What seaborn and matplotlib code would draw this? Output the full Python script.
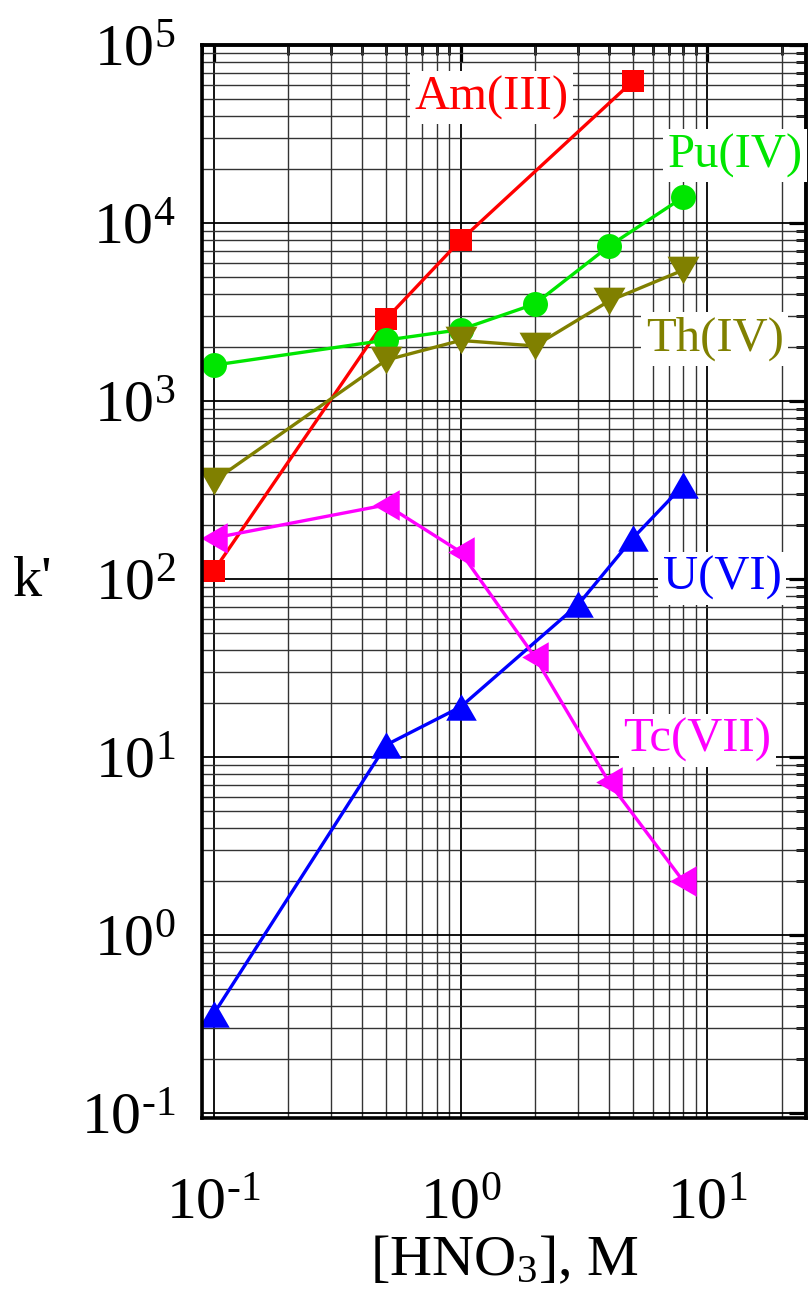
import numpy as np
import pandas as pd
import matplotlib
matplotlib.use("Agg")
import matplotlib.pyplot as plt
import seaborn as sns
from matplotlib.ticker import LogLocator, NullFormatter, FuncFormatter

# k' vs [HNO3] for each ion
hno3_am = [0.1, 0.5, 1, 5]
k_am = [111, 2900, 8000, 62800]

hno3_pu = [0.1, 0.5, 1, 2, 4, 8]
k_pu = [1590, 2200, 2520, 3510, 7430, 14000]

hno3_th = [0.1, 0.5, 1, 2, 4, 8]
k_th = [355, 1700, 2190, 2040, 3650, 5450]

hno3_u = [0.1, 0.5, 1, 3, 5, 8]
k_u = [0.36, 11.7, 19.1, 72, 170, 337]

hno3_tc = [0.1, 0.5, 1, 2, 4, 8]
k_tc = [170, 261, 142, 36.5, 7.2, 2.0]

labels = ["Am(III)", "Pu(IV)", "Th(IV)", "U(VI)", "Tc(VII)"]

sns.set_theme(style="white")
plt.rcParams["font.family"] = ["Liberation Serif", "DejaVu Serif"]
plt.rcParams["mathtext.fontset"] = "custom"
plt.rcParams["mathtext.rm"] = "Liberation Serif"
plt.rcParams["mathtext.it"] = "Liberation Serif:italic"
plt.rcParams["text.color"] = "black"
plt.rcParams["axes.labelcolor"] = "black"
plt.rcParams["xtick.color"] = "black"
plt.rcParams["ytick.color"] = "black"

up = [(0, 0.433), (-0.5, -0.433), (0.5, -0.433)]
down = [(0, -0.433), (-0.5, 0.433), (0.5, 0.433)]
left = [(-0.433, 0), (0.433, 0.5), (0.433, -0.5)]

series = [
    (hno3_am, k_am, "#FF0000", "s", 16.5),
    (hno3_pu, k_pu, "#00E600", "o", 18),
    (hno3_th, k_th, "#808000", down, 23),
    (hno3_u, k_u, "#0000FF", up, 22),
    (hno3_tc, k_tc, "#FF00FF", left, 22),
]


def pow_label(v, pos):
    e = int(round(np.log10(v)))
    s = str(e).replace("-", "\u2010")
    return "$\\mathdefault{10^{" + s + "}}$"


fig = plt.figure(figsize=(8.09, 12.99), dpi=100)
ax = fig.add_axes([0.2497, 0.1393, 0.7466, 0.826])
ax.set_xscale("log")
ax.set_yscale("log")

for (x, y, c, m, ms), name in zip(series, labels):
    df = pd.DataFrame({"HNO3": x, "k": y})
    sns.lineplot(data=df, x="HNO3", y="k", ax=ax, color=c, lw=2.4,
                 marker=m, ms=ms, markeredgewidth=0, sort=False)

ax.set_xlim(0.0897, 25.1)
ax.set_ylim(0.0937, 1e5)

for axis in (ax.xaxis, ax.yaxis):
    axis.set_major_locator(LogLocator(base=10, numticks=20))
    axis.set_minor_locator(LogLocator(base=10, subs=np.arange(2, 10), numticks=20))
    axis.set_major_formatter(FuncFormatter(pow_label))
    axis.set_minor_formatter(NullFormatter())

ax.set_axisbelow(True)
ax.grid(which="major", color="black", lw=1.3)
ax.grid(which="minor", color="#333333", lw=1.0)

for s in ax.spines.values():
    s.set_linewidth(2.6)
    s.set_color("black")

ax.tick_params(which="major", direction="out", length=13, width=2.3,
               labelsize=43, colors="black", top=False, right=False)
ax.tick_params(which="minor", direction="out", length=7.5, width=2.0,
               top=False, right=False)
ax.tick_params(axis="y", which="major", pad=6)
ax.tick_params(axis="x", which="major", pad=30)

# inward ticks on the top and right edges
sec_x = ax.secondary_xaxis("top")
sec_y = ax.secondary_yaxis("right")
for sec, axis in ((sec_x, sec_x.xaxis), (sec_y, sec_y.yaxis)):
    axis.set_major_locator(LogLocator(base=10, numticks=20))
    axis.set_minor_locator(LogLocator(base=10, subs=np.arange(2, 10), numticks=20))
    axis.set_major_formatter(NullFormatter())
    axis.set_minor_formatter(NullFormatter())
    sec.tick_params(which="major", direction="in", length=12, width=2.3)
    sec.tick_params(which="minor", direction="in", length=7, width=2.0)
    for s in sec.spines.values():
        s.set_linewidth(2.6)

ax.set_xlabel("[HNO$_3$], M", fontsize=42, labelpad=2)
ax.set_ylabel("k'", fontsize=42, rotation=0, va="center", ha="center")
ax.yaxis.set_label_coords(-0.28, 0.5)

box = dict(facecolor="white", edgecolor="none", pad=3)
label_pos = [(0.480, 0.951), (0.882, 0.897), (0.849, 0.726), (0.861, 0.503), (0.820, 0.352)]
for (x, y, c, m, ms), name, (tx, ty) in zip(series, labels, label_pos):
    ax.text(tx, ty, name, color=c, fontsize=35, ha="center", va="center",
            transform=ax.transAxes, bbox=box, zorder=4)

fig.savefig("out.png", dpi=100)
